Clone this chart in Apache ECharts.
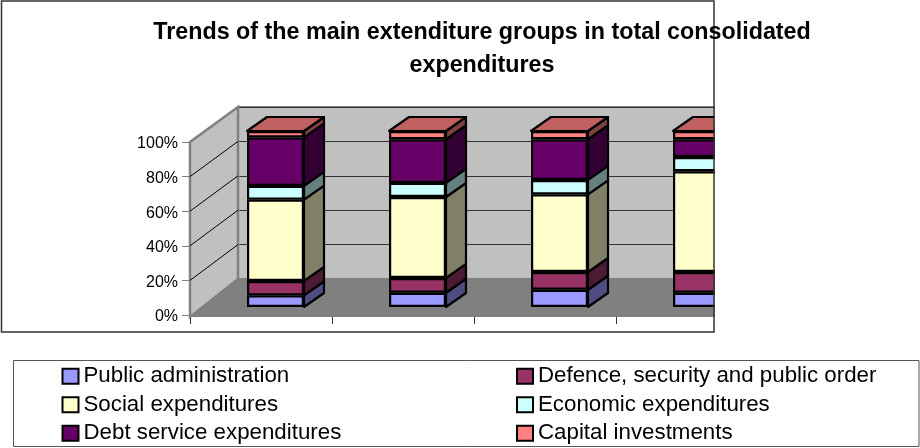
<!DOCTYPE html>
<html>
<head>
<meta charset="utf-8">
<style>
  html, body { margin: 0; padding: 0; background: #fff; }
  #chart { width: 920px; height: 448px; }
</style>
<script src="https://cdn.jsdelivr.net/npm/echarts@6/dist/echarts.min.js"></script>
</head>
<body>
<div id="chart"></div>
<script>
  const categories = ['Period 1', 'Period 2', 'Period 3', 'Period 4']
  const publicAdmin = [6.6, 8.1, 9.8, 8.1]
  const defence = [8.2, 8.4, 10.1, 11.8]
  const social = [46.2, 46, 44.1, 57.2]
  const economic = [7.8, 8, 8.2, 8.1]
  const debtService = [27.6, 24.8, 23.1, 10.1]
  const capital = [3.6, 4.7, 4.7, 4.7]
  const tickValues = [0, 20, 40, 60, 80, 100]

  const stackNames = ['Public administration', 'Defence, security and public order', 'Social expenditures',
    'Economic expenditures', 'Debt service expenditures', 'Capital investments']
  const stackValues = [publicAdmin, defence, social, economic, debtService, capital]
  const frontColors = ['#9999FF', '#993366', '#FFFFCC', '#CCFFFF', '#660066', '#FF8080']
  const sideColors = ['#4D4D80', '#4D1A33', '#808066', '#668080', '#330033', '#804040']
  const topColor = '#C06060'

  const barWidth = 57
  const depthX = 20
  const depthY = -14

  // 柱子的侧面和顶面 rows: [类目, 下沿, 上沿, 系列]
  let faceRows = []
  categories.forEach((c, i) => {
    let sum = 0
    stackValues.forEach((vals, s) => {
      faceRows.push([i, sum, sum + vals[i], s])
      sum += vals[i]
    })
  })

  function renderFaces(params, api) {
    let cat = api.value(0)
    let s = api.value(3)
    let low = api.coord([cat, api.value(1)])
    let high = api.coord([cat, api.value(2)])
    let right = low[0] + barWidth / 2
    let left = low[0] - barWidth / 2
    let line = { stroke: '#000', lineWidth: 2.2, lineJoin: 'round' }
    let children = [{
      type: 'polygon',
      shape: { points: [[right, low[1]], [right + depthX, low[1] + depthY], [right + depthX, high[1] + depthY], [right, high[1]]] },
      style: Object.assign({ fill: sideColors[s] }, line)
    }]
    if (s === stackValues.length - 1) {
      children.push({
        type: 'polygon',
        shape: { points: [[left, high[1]], [left + depthX, high[1] + depthY], [right + depthX, high[1] + depthY], [right, high[1]]] },
        style: Object.assign({ fill: topColor }, line)
      })
    }
    return { type: 'group', children: children }
  }

  const frontSeries = stackNames.map((name, s) => ({
    name: name,
    type: 'bar',
    stack: 'total',
    xAxisIndex: 2,
    yAxisIndex: 2,
    barWidth: barWidth,
    z: 4,
    itemStyle: { color: frontColors[s], borderColor: '#000', borderWidth: 2.2 },
    data: stackValues[s]
  }))

  const legendText = { color: '#000', fontFamily: 'Liberation Sans', fontSize: 22.3, lineHeight: 22.5, padding: [0, 0, 6, 0] }
  const legendBase = { top: 362, orient: 'vertical', padding: 0, itemWidth: 16, itemHeight: 15, itemGap: 0, icon: 'rect', textStyle: legendText }
  const sideGridLines = tickValues.slice(1, 5).map(v => ({
    type: 'line',
    z: 1,
    shape: { x1: 190, y1: 317 - v * 1.73 - 2, x2: 238, y2: 279 - v * 1.72 },
    style: { stroke: '#000', lineWidth: 1 }
  }))

  let chart = echarts.init(document.getElementById('chart'))
  chart.setOption({
    animation: false,
    backgroundColor: '#fff',
    title: {
      text: 'Trends of the main extenditure groups in total consolidated\nexpenditures',
      left: 477,
      top: 11,
      textAlign: 'center',
      z: 10,
      textStyle: { fontFamily: 'Liberation Sans', fontSize: 23.3, fontWeight: 'bold', color: '#000', lineHeight: 33 }
    },
    grid: [
      { left: 190, top: 142, width: 568, height: 175 },
      { left: 238, top: 107, width: 520, height: 172, show: true, backgroundColor: '#C0C0C0', borderColor: '#808080', borderWidth: 2 },
      { left: 204.5, top: 131, width: 568, height: 176 }
    ],
    xAxis: [
      { gridIndex: 0, type: 'category', data: categories, boundaryGap: true,
        axisLine: { lineStyle: { color: '#333', width: 1 } },
        axisTick: { show: true, length: 9, alignWithLabel: false, lineStyle: { color: '#333' } },
        axisLabel: { show: false } },
      { gridIndex: 1, type: 'category', data: categories, show: false },
      { gridIndex: 2, type: 'category', data: categories, show: false }
    ],
    yAxis: [
      { gridIndex: 0, type: 'value', min: -1.15, max: 100,
        axisLine: { show: true, lineStyle: { color: '#808080', width: 2 } },
        axisTick: { show: true, length: 8, customValues: tickValues, lineStyle: { color: '#808080', width: 1 } },
        axisLabel: { customValues: tickValues, formatter: '{t|{value}%}', margin: 12,
          rich: { t: { color: '#000', fontFamily: 'Liberation Sans', fontSize: 16, padding: [4, 0, 0, 0] } } },
        splitLine: { show: false } },
      { gridIndex: 1, type: 'value', min: 0, max: 100, interval: 20,
        axisLine: { show: false }, axisTick: { show: false }, axisLabel: { show: false },
        splitLine: { show: true, lineStyle: { color: '#333', width: 1 } } },
      { gridIndex: 2, type: 'value', min: 0, max: 100, show: false }
    ],
    legend: [
      Object.assign({ left: 61.5, data: [stackNames[0], stackNames[2], stackNames[4]] }, legendBase),
      Object.assign({ left: 516, data: [stackNames[1], stackNames[3], stackNames[5]] }, legendBase)
    ],
    graphic: [
      // 左侧墙和底面
      { type: 'polygon', z: 1, shape: { points: [[190, 142], [238, 107], [238, 279], [190, 317]] },
        style: { fill: '#C0C0C0', stroke: '#808080', lineWidth: 2.5 } },
      { type: 'polygon', z: 1, shape: { points: [[190, 317], [238, 279], [770, 279], [770, 317]] },
        style: { fill: '#808080' } }
    ].concat(sideGridLines, [
      // 图表右侧被裁掉的部分
      { type: 'rect', z: 8, shape: { x: 715, y: 0, width: 205, height: 340 }, style: { fill: '#fff' } },
      { type: 'rect', z: 9, shape: { x: 1.5, y: 1, width: 712.5, height: 331 }, style: { fill: 'none', stroke: '#333', lineWidth: 1.5 } },
      { type: 'rect', z: 9, shape: { x: 13.5, y: 360.5, width: 905.5, height: 86 }, style: { fill: 'none', stroke: '#555', lineWidth: 1 } }
    ]),
    series: frontSeries.concat([{
      type: 'custom',
      xAxisIndex: 2,
      yAxisIndex: 2,
      z: 3,
      clip: false,
      silent: true,
      renderItem: renderFaces,
      data: faceRows
    }])
  })
</script>
</body>
</html>
